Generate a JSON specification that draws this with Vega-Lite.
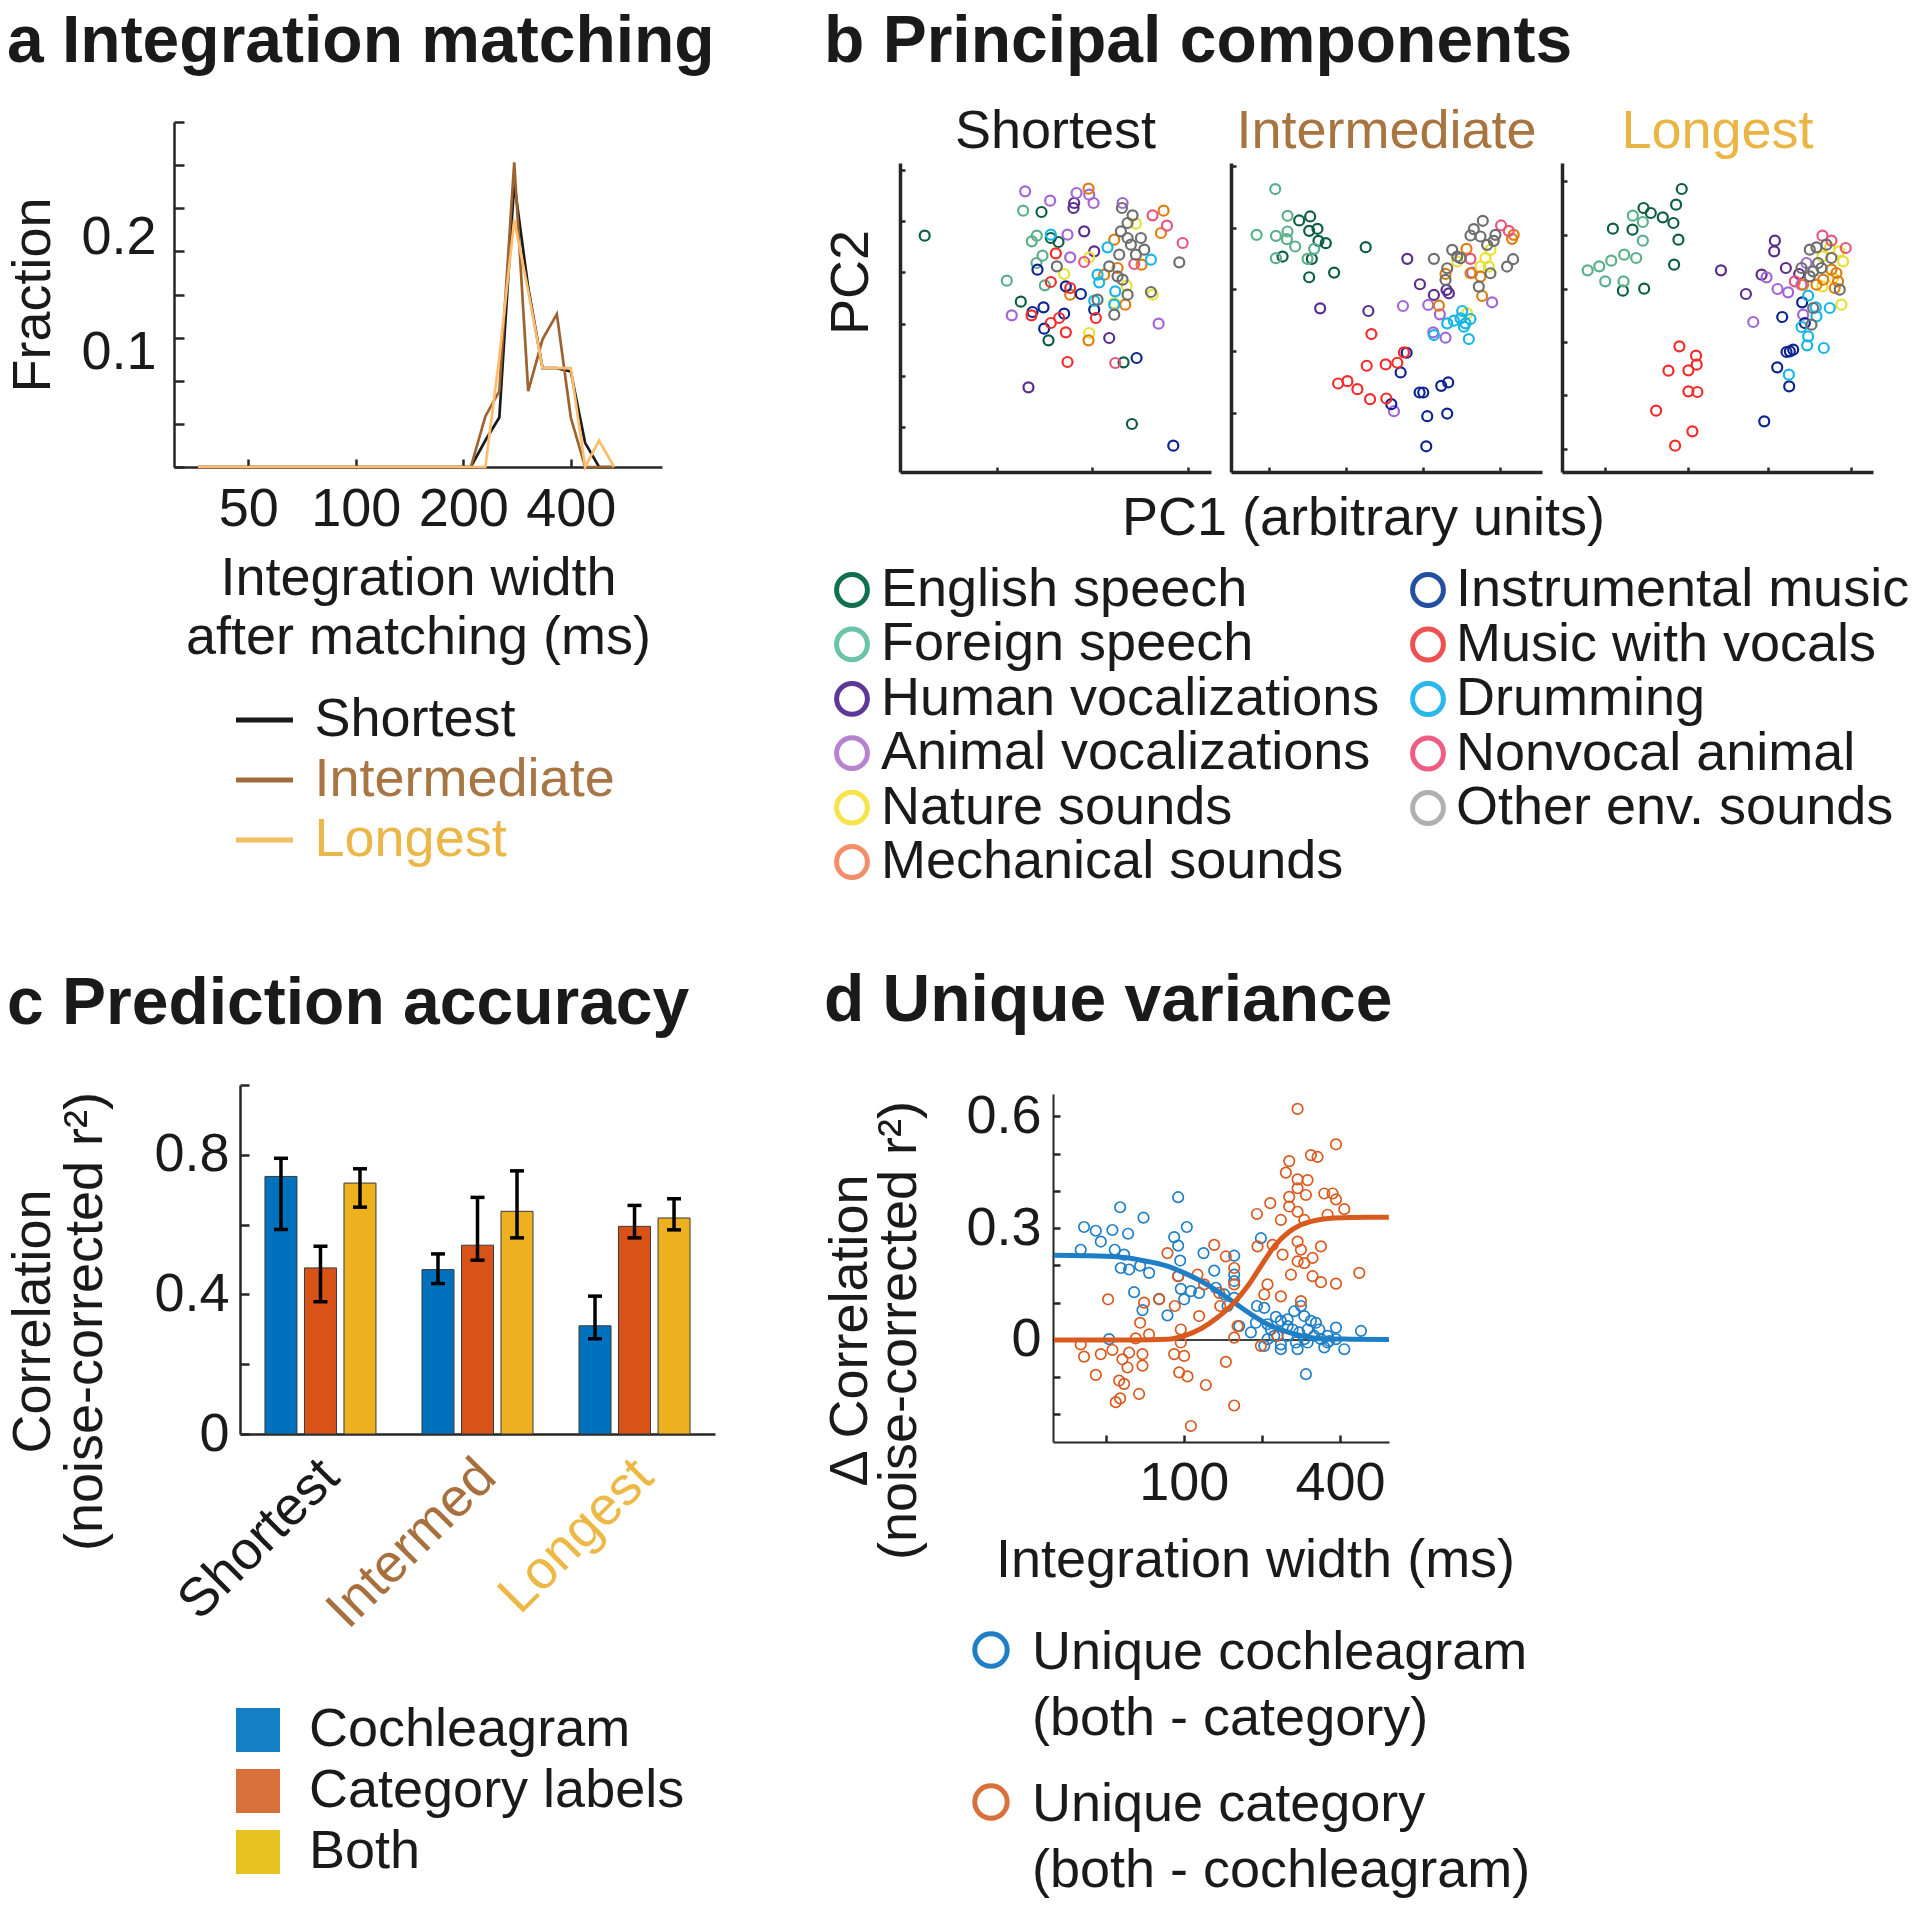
{
"$schema": "https://vega.github.io/schema/vega-lite/v6.json",
"background": "white",
"padding": {"left": 5, "top": 8, "right": 3, "bottom": 4},
"config": {
 "view": {"stroke": null},
 "font": "Liberation Sans",
 "title": {"font": "Liberation Sans", "color": "#1a1a1a"},
 "axis": {"grid": false, "labelFontSize": 54, "titleFontSize": 54, "labelFont": "Liberation Sans", "titleFont": "Liberation Sans", "titleFontWeight": "normal", "labelColor": "#1a1a1a", "titleColor": "#1a1a1a", "domainColor": "#262626", "tickColor": "#262626", "domainWidth": 2.5, "tickWidth": 2.5, "labelFlush": false, "labelOverlap": false, "labelLimit": 0}
},
"datasets": {
 "pcs": [
  {"panel":"Shortest","category":"English speech","pc1":1.12,"pc2":7.17},
  {"panel":"Shortest","category":"English speech","pc1":4.62,"pc2":7.88},
  {"panel":"Shortest","category":"English speech","pc1":4.00,"pc2":5.19},
  {"panel":"Shortest","category":"English speech","pc1":4.83,"pc2":4.03},
  {"panel":"Shortest","category":"English speech","pc1":7.33,"pc2":1.52},
  {"panel":"Shortest","category":"English speech","pc1":7.08,"pc2":3.37},
  {"panel":"Shortest","category":"English speech","pc1":4.90,"pc2":7.10},
  {"panel":"Shortest","category":"English speech","pc1":5.13,"pc2":6.98},
  {"panel":"Shortest","category":"Foreign speech","pc1":4.07,"pc2":7.92},
  {"panel":"Shortest","category":"Foreign speech","pc1":4.33,"pc2":7.00},
  {"panel":"Shortest","category":"Foreign speech","pc1":4.48,"pc2":7.17},
  {"panel":"Shortest","category":"Foreign speech","pc1":4.65,"pc2":6.57},
  {"panel":"Shortest","category":"Foreign speech","pc1":4.47,"pc2":6.35},
  {"panel":"Shortest","category":"Foreign speech","pc1":3.58,"pc2":5.82},
  {"panel":"Shortest","category":"Foreign speech","pc1":4.72,"pc2":5.68},
  {"panel":"Shortest","category":"Human vocalizations","pc1":5.60,"pc2":8.15},
  {"panel":"Shortest","category":"Human vocalizations","pc1":5.58,"pc2":8.00},
  {"panel":"Shortest","category":"Human vocalizations","pc1":5.90,"pc2":7.30},
  {"panel":"Shortest","category":"Human vocalizations","pc1":6.20,"pc2":6.70},
  {"panel":"Shortest","category":"Human vocalizations","pc1":4.23,"pc2":2.62},
  {"panel":"Shortest","category":"Human vocalizations","pc1":6.65,"pc2":4.10},
  {"panel":"Shortest","category":"Animal vocalizations","pc1":4.13,"pc2":8.50},
  {"panel":"Shortest","category":"Animal vocalizations","pc1":4.88,"pc2":8.22},
  {"panel":"Shortest","category":"Animal vocalizations","pc1":5.67,"pc2":8.45},
  {"panel":"Shortest","category":"Animal vocalizations","pc1":6.05,"pc2":8.40},
  {"panel":"Shortest","category":"Animal vocalizations","pc1":6.18,"pc2":8.15},
  {"panel":"Shortest","category":"Animal vocalizations","pc1":5.40,"pc2":7.20},
  {"panel":"Shortest","category":"Animal vocalizations","pc1":5.48,"pc2":6.52},
  {"panel":"Shortest","category":"Animal vocalizations","pc1":3.73,"pc2":4.78},
  {"panel":"Shortest","category":"Animal vocalizations","pc1":7.05,"pc2":8.15},
  {"panel":"Shortest","category":"Animal vocalizations","pc1":8.13,"pc2":4.53},
  {"panel":"Shortest","category":"Nature sounds","pc1":7.45,"pc2":7.53},
  {"panel":"Shortest","category":"Nature sounds","pc1":5.30,"pc2":6.02},
  {"panel":"Shortest","category":"Nature sounds","pc1":6.05,"pc2":6.52},
  {"panel":"Shortest","category":"Nature sounds","pc1":7.17,"pc2":5.67},
  {"panel":"Shortest","category":"Nature sounds","pc1":6.80,"pc2":5.15},
  {"panel":"Shortest","category":"Nature sounds","pc1":7.95,"pc2":5.40},
  {"panel":"Shortest","category":"Nature sounds","pc1":6.05,"pc2":4.25},
  {"panel":"Shortest","category":"Mechanical sounds","pc1":6.03,"pc2":8.58},
  {"panel":"Shortest","category":"Mechanical sounds","pc1":8.28,"pc2":7.92},
  {"panel":"Shortest","category":"Mechanical sounds","pc1":8.20,"pc2":7.25},
  {"panel":"Shortest","category":"Mechanical sounds","pc1":6.80,"pc2":7.05},
  {"panel":"Shortest","category":"Mechanical sounds","pc1":6.90,"pc2":6.20},
  {"panel":"Shortest","category":"Mechanical sounds","pc1":6.50,"pc2":6.00},
  {"panel":"Shortest","category":"Mechanical sounds","pc1":7.62,"pc2":6.30},
  {"panel":"Shortest","category":"Mechanical sounds","pc1":7.13,"pc2":5.10},
  {"panel":"Shortest","category":"Mechanical sounds","pc1":6.03,"pc2":4.03},
  {"panel":"Shortest","category":"Mechanical sounds","pc1":5.48,"pc2":5.40},
  {"panel":"Shortest","category":"Instrumental music","pc1":4.50,"pc2":6.15},
  {"panel":"Shortest","category":"Instrumental music","pc1":4.35,"pc2":4.88},
  {"panel":"Shortest","category":"Instrumental music","pc1":4.68,"pc2":5.02},
  {"panel":"Shortest","category":"Instrumental music","pc1":4.70,"pc2":4.38},
  {"panel":"Shortest","category":"Instrumental music","pc1":5.30,"pc2":4.83},
  {"panel":"Shortest","category":"Instrumental music","pc1":5.35,"pc2":5.65},
  {"panel":"Shortest","category":"Instrumental music","pc1":5.80,"pc2":5.42},
  {"panel":"Shortest","category":"Instrumental music","pc1":6.20,"pc2":4.95},
  {"panel":"Shortest","category":"Instrumental music","pc1":7.47,"pc2":3.50},
  {"panel":"Shortest","category":"Instrumental music","pc1":8.57,"pc2":0.87},
  {"panel":"Shortest","category":"Music with vocals","pc1":5.05,"pc2":6.64},
  {"panel":"Shortest","category":"Music with vocals","pc1":4.90,"pc2":5.78},
  {"panel":"Shortest","category":"Music with vocals","pc1":5.48,"pc2":5.60},
  {"panel":"Shortest","category":"Music with vocals","pc1":4.32,"pc2":4.78},
  {"panel":"Shortest","category":"Music with vocals","pc1":4.90,"pc2":4.55},
  {"panel":"Shortest","category":"Music with vocals","pc1":5.15,"pc2":4.70},
  {"panel":"Shortest","category":"Music with vocals","pc1":5.35,"pc2":4.27},
  {"panel":"Shortest","category":"Music with vocals","pc1":6.25,"pc2":4.70},
  {"panel":"Shortest","category":"Music with vocals","pc1":5.40,"pc2":3.38},
  {"panel":"Shortest","category":"Drumming","pc1":4.90,"pc2":7.20},
  {"panel":"Shortest","category":"Drumming","pc1":6.60,"pc2":6.82},
  {"panel":"Shortest","category":"Drumming","pc1":7.90,"pc2":6.45},
  {"panel":"Shortest","category":"Drumming","pc1":6.30,"pc2":6.00},
  {"panel":"Shortest","category":"Drumming","pc1":6.35,"pc2":5.77},
  {"panel":"Shortest","category":"Drumming","pc1":6.83,"pc2":5.50},
  {"panel":"Shortest","category":"Drumming","pc1":6.20,"pc2":5.22},
  {"panel":"Shortest","category":"Drumming","pc1":6.80,"pc2":5.10},
  {"panel":"Shortest","category":"Nonvocal animal","pc1":7.95,"pc2":7.78},
  {"panel":"Shortest","category":"Nonvocal animal","pc1":8.38,"pc2":7.47},
  {"panel":"Shortest","category":"Nonvocal animal","pc1":8.85,"pc2":6.95},
  {"panel":"Shortest","category":"Nonvocal animal","pc1":5.90,"pc2":6.38},
  {"panel":"Shortest","category":"Nonvocal animal","pc1":7.40,"pc2":6.32},
  {"panel":"Shortest","category":"Nonvocal animal","pc1":6.83,"pc2":3.35},
  {"panel":"Shortest","category":"Other env. sounds","pc1":7.03,"pc2":8.00},
  {"panel":"Shortest","category":"Other env. sounds","pc1":7.35,"pc2":7.78},
  {"panel":"Shortest","category":"Other env. sounds","pc1":7.20,"pc2":7.55},
  {"panel":"Shortest","category":"Other env. sounds","pc1":7.00,"pc2":7.30},
  {"panel":"Shortest","category":"Other env. sounds","pc1":7.60,"pc2":7.10},
  {"panel":"Shortest","category":"Other env. sounds","pc1":7.30,"pc2":6.90},
  {"panel":"Shortest","category":"Other env. sounds","pc1":7.70,"pc2":6.75},
  {"panel":"Shortest","category":"Other env. sounds","pc1":6.95,"pc2":6.60},
  {"panel":"Shortest","category":"Other env. sounds","pc1":7.45,"pc2":6.60},
  {"panel":"Shortest","category":"Other env. sounds","pc1":8.75,"pc2":6.37},
  {"panel":"Shortest","category":"Other env. sounds","pc1":6.65,"pc2":6.25},
  {"panel":"Shortest","category":"Other env. sounds","pc1":6.90,"pc2":5.95},
  {"panel":"Shortest","category":"Other env. sounds","pc1":7.05,"pc2":5.85},
  {"panel":"Shortest","category":"Other env. sounds","pc1":7.20,"pc2":5.40},
  {"panel":"Shortest","category":"Other env. sounds","pc1":7.90,"pc2":5.48},
  {"panel":"Shortest","category":"Other env. sounds","pc1":6.30,"pc2":5.25},
  {"panel":"Shortest","category":"Other env. sounds","pc1":6.80,"pc2":4.80},
  {"panel":"Shortest","category":"Other env. sounds","pc1":5.08,"pc2":6.25},
  {"panel":"Shortest","category":"Other env. sounds","pc1":7.20,"pc2":7.10},

  {"panel":"Intermediate","category":"English speech","pc1":2.45,"pc2":7.63},
  {"panel":"Intermediate","category":"English speech","pc1":2.78,"pc2":7.75},
  {"panel":"Intermediate","category":"English speech","pc1":2.75,"pc2":7.32},
  {"panel":"Intermediate","category":"English speech","pc1":3.00,"pc2":7.38},
  {"panel":"Intermediate","category":"English speech","pc1":3.03,"pc2":7.02},
  {"panel":"Intermediate","category":"English speech","pc1":3.25,"pc2":6.95},
  {"panel":"Intermediate","category":"English speech","pc1":1.95,"pc2":6.55},
  {"panel":"Intermediate","category":"English speech","pc1":2.83,"pc2":6.48},
  {"panel":"Intermediate","category":"English speech","pc1":2.75,"pc2":5.93},
  {"panel":"Intermediate","category":"English speech","pc1":3.50,"pc2":6.07},
  {"panel":"Intermediate","category":"English speech","pc1":4.45,"pc2":6.83},
  {"panel":"Intermediate","category":"Foreign speech","pc1":1.73,"pc2":8.57},
  {"panel":"Intermediate","category":"Foreign speech","pc1":2.10,"pc2":7.77},
  {"panel":"Intermediate","category":"Foreign speech","pc1":1.17,"pc2":7.20},
  {"panel":"Intermediate","category":"Foreign speech","pc1":1.75,"pc2":7.17},
  {"panel":"Intermediate","category":"Foreign speech","pc1":2.10,"pc2":7.30},
  {"panel":"Intermediate","category":"Foreign speech","pc1":2.08,"pc2":7.07},
  {"panel":"Intermediate","category":"Foreign speech","pc1":2.33,"pc2":6.85},
  {"panel":"Intermediate","category":"Foreign speech","pc1":1.75,"pc2":6.50},
  {"panel":"Intermediate","category":"Foreign speech","pc1":2.70,"pc2":6.48},
  {"panel":"Intermediate","category":"Foreign speech","pc1":2.90,"pc2":6.78},
  {"panel":"Intermediate","category":"Human vocalizations","pc1":3.08,"pc2":5.00},
  {"panel":"Intermediate","category":"Human vocalizations","pc1":4.53,"pc2":4.92},
  {"panel":"Intermediate","category":"Human vocalizations","pc1":5.70,"pc2":6.48},
  {"panel":"Intermediate","category":"Human vocalizations","pc1":6.08,"pc2":5.72},
  {"panel":"Intermediate","category":"Human vocalizations","pc1":6.50,"pc2":5.40},
  {"panel":"Intermediate","category":"Human vocalizations","pc1":6.88,"pc2":5.55},
  {"panel":"Intermediate","category":"Human vocalizations","pc1":6.95,"pc2":5.45},
  {"panel":"Intermediate","category":"Animal vocalizations","pc1":5.57,"pc2":5.07},
  {"panel":"Intermediate","category":"Animal vocalizations","pc1":6.33,"pc2":5.10},
  {"panel":"Intermediate","category":"Animal vocalizations","pc1":6.68,"pc2":4.82},
  {"panel":"Intermediate","category":"Animal vocalizations","pc1":6.48,"pc2":4.28},
  {"panel":"Intermediate","category":"Animal vocalizations","pc1":6.85,"pc2":4.12},
  {"panel":"Intermediate","category":"Animal vocalizations","pc1":8.25,"pc2":5.18},
  {"panel":"Intermediate","category":"Animal vocalizations","pc1":5.30,"pc2":1.92},
  {"panel":"Intermediate","category":"Animal vocalizations","pc1":7.65,"pc2":6.07},
  {"panel":"Intermediate","category":"Nature sounds","pc1":8.20,"pc2":6.75},
  {"panel":"Intermediate","category":"Nature sounds","pc1":8.05,"pc2":6.50},
  {"panel":"Intermediate","category":"Nature sounds","pc1":7.90,"pc2":6.25},
  {"panel":"Intermediate","category":"Nature sounds","pc1":7.20,"pc2":6.40},
  {"panel":"Intermediate","category":"Nature sounds","pc1":7.50,"pc2":4.85},
  {"panel":"Intermediate","category":"Nature sounds","pc1":8.15,"pc2":6.25},
  {"panel":"Intermediate","category":"Mechanical sounds","pc1":8.90,"pc2":7.20},
  {"panel":"Intermediate","category":"Mechanical sounds","pc1":8.85,"pc2":7.08},
  {"panel":"Intermediate","category":"Mechanical sounds","pc1":7.48,"pc2":6.78},
  {"panel":"Intermediate","category":"Mechanical sounds","pc1":6.85,"pc2":6.03},
  {"panel":"Intermediate","category":"Mechanical sounds","pc1":7.60,"pc2":6.05},
  {"panel":"Intermediate","category":"Mechanical sounds","pc1":7.90,"pc2":5.95},
  {"panel":"Intermediate","category":"Mechanical sounds","pc1":7.95,"pc2":5.37},
  {"panel":"Intermediate","category":"Mechanical sounds","pc1":6.65,"pc2":5.08},
  {"panel":"Intermediate","category":"Instrumental music","pc1":5.68,"pc2":3.67},
  {"panel":"Intermediate","category":"Instrumental music","pc1":5.50,"pc2":3.08},
  {"panel":"Intermediate","category":"Instrumental music","pc1":5.22,"pc2":2.13},
  {"panel":"Intermediate","category":"Instrumental music","pc1":6.07,"pc2":2.48},
  {"panel":"Intermediate","category":"Instrumental music","pc1":6.18,"pc2":2.48},
  {"panel":"Intermediate","category":"Instrumental music","pc1":6.72,"pc2":2.68},
  {"panel":"Intermediate","category":"Instrumental music","pc1":6.93,"pc2":2.78},
  {"panel":"Intermediate","category":"Instrumental music","pc1":6.90,"pc2":1.85},
  {"panel":"Intermediate","category":"Instrumental music","pc1":6.30,"pc2":1.77},
  {"panel":"Intermediate","category":"Instrumental music","pc1":6.27,"pc2":0.87},
  {"panel":"Intermediate","category":"Music with vocals","pc1":4.62,"pc2":4.23},
  {"panel":"Intermediate","category":"Music with vocals","pc1":4.48,"pc2":3.28},
  {"panel":"Intermediate","category":"Music with vocals","pc1":5.05,"pc2":3.32},
  {"panel":"Intermediate","category":"Music with vocals","pc1":5.40,"pc2":3.37},
  {"panel":"Intermediate","category":"Music with vocals","pc1":5.60,"pc2":3.68},
  {"panel":"Intermediate","category":"Music with vocals","pc1":3.62,"pc2":2.75},
  {"panel":"Intermediate","category":"Music with vocals","pc1":3.90,"pc2":2.82},
  {"panel":"Intermediate","category":"Music with vocals","pc1":4.20,"pc2":2.58},
  {"panel":"Intermediate","category":"Music with vocals","pc1":4.58,"pc2":2.28},
  {"panel":"Intermediate","category":"Music with vocals","pc1":5.07,"pc2":2.30},
  {"panel":"Intermediate","category":"Drumming","pc1":6.90,"pc2":4.55},
  {"panel":"Intermediate","category":"Drumming","pc1":7.10,"pc2":4.63},
  {"panel":"Intermediate","category":"Drumming","pc1":7.30,"pc2":4.70},
  {"panel":"Intermediate","category":"Drumming","pc1":7.45,"pc2":4.55},
  {"panel":"Intermediate","category":"Drumming","pc1":7.60,"pc2":4.68},
  {"panel":"Intermediate","category":"Drumming","pc1":7.35,"pc2":4.92},
  {"panel":"Intermediate","category":"Drumming","pc1":6.50,"pc2":4.20},
  {"panel":"Intermediate","category":"Drumming","pc1":7.55,"pc2":4.08},
  {"panel":"Intermediate","category":"Drumming","pc1":7.40,"pc2":4.45},
  {"panel":"Intermediate","category":"Nonvocal animal","pc1":8.52,"pc2":7.48},
  {"panel":"Intermediate","category":"Nonvocal animal","pc1":8.75,"pc2":7.32},
  {"panel":"Intermediate","category":"Nonvocal animal","pc1":7.60,"pc2":6.48},
  {"panel":"Intermediate","category":"Other env. sounds","pc1":7.97,"pc2":7.62},
  {"panel":"Intermediate","category":"Other env. sounds","pc1":7.70,"pc2":7.37},
  {"panel":"Intermediate","category":"Other env. sounds","pc1":7.60,"pc2":7.18},
  {"panel":"Intermediate","category":"Other env. sounds","pc1":7.90,"pc2":7.15},
  {"panel":"Intermediate","category":"Other env. sounds","pc1":8.35,"pc2":7.20},
  {"panel":"Intermediate","category":"Other env. sounds","pc1":8.30,"pc2":7.02},
  {"panel":"Intermediate","category":"Other env. sounds","pc1":8.10,"pc2":6.90},
  {"panel":"Intermediate","category":"Other env. sounds","pc1":7.05,"pc2":6.75},
  {"panel":"Intermediate","category":"Other env. sounds","pc1":7.30,"pc2":6.50},
  {"panel":"Intermediate","category":"Other env. sounds","pc1":6.50,"pc2":6.48},
  {"panel":"Intermediate","category":"Other env. sounds","pc1":6.90,"pc2":6.20},
  {"panel":"Intermediate","category":"Other env. sounds","pc1":6.85,"pc2":5.85},
  {"panel":"Intermediate","category":"Other env. sounds","pc1":7.85,"pc2":5.65},
  {"panel":"Intermediate","category":"Other env. sounds","pc1":8.70,"pc2":6.25},
  {"panel":"Intermediate","category":"Other env. sounds","pc1":8.88,"pc2":6.47},
  {"panel":"Intermediate","category":"Other env. sounds","pc1":8.20,"pc2":6.05},
  {"panel":"Intermediate","category":"Other env. sounds","pc1":7.20,"pc2":6.55},

  {"panel":"Longest","category":"English speech","pc1":4.05,"pc2":8.57},
  {"panel":"Longest","category":"English speech","pc1":3.88,"pc2":8.10},
  {"panel":"Longest","category":"English speech","pc1":2.90,"pc2":8.00},
  {"panel":"Longest","category":"English speech","pc1":3.12,"pc2":7.85},
  {"panel":"Longest","category":"English speech","pc1":3.48,"pc2":7.72},
  {"panel":"Longest","category":"English speech","pc1":3.80,"pc2":7.55},
  {"panel":"Longest","category":"English speech","pc1":3.95,"pc2":7.05},
  {"panel":"Longest","category":"English speech","pc1":1.98,"pc2":7.38},
  {"panel":"Longest","category":"English speech","pc1":2.57,"pc2":7.35},
  {"panel":"Longest","category":"English speech","pc1":3.82,"pc2":6.30},
  {"panel":"Longest","category":"English speech","pc1":2.28,"pc2":5.52},
  {"panel":"Longest","category":"English speech","pc1":2.92,"pc2":5.58},
  {"panel":"Longest","category":"Foreign speech","pc1":2.58,"pc2":7.77},
  {"panel":"Longest","category":"Foreign speech","pc1":2.88,"pc2":7.58},
  {"panel":"Longest","category":"Foreign speech","pc1":2.88,"pc2":7.02},
  {"panel":"Longest","category":"Foreign speech","pc1":2.32,"pc2":6.60},
  {"panel":"Longest","category":"Foreign speech","pc1":2.68,"pc2":6.50},
  {"panel":"Longest","category":"Foreign speech","pc1":1.93,"pc2":6.42},
  {"panel":"Longest","category":"Foreign speech","pc1":1.57,"pc2":6.25},
  {"panel":"Longest","category":"Foreign speech","pc1":1.22,"pc2":6.13},
  {"panel":"Longest","category":"Foreign speech","pc1":1.75,"pc2":5.80},
  {"panel":"Longest","category":"Foreign speech","pc1":2.30,"pc2":5.80},
  {"panel":"Longest","category":"Human vocalizations","pc1":6.85,"pc2":7.02},
  {"panel":"Longest","category":"Human vocalizations","pc1":6.83,"pc2":6.70},
  {"panel":"Longest","category":"Human vocalizations","pc1":5.23,"pc2":6.13},
  {"panel":"Longest","category":"Human vocalizations","pc1":5.98,"pc2":5.42},
  {"panel":"Longest","category":"Human vocalizations","pc1":6.45,"pc2":6.00},
  {"panel":"Longest","category":"Human vocalizations","pc1":7.18,"pc2":6.20},
  {"panel":"Longest","category":"Human vocalizations","pc1":7.58,"pc2":6.02},
  {"panel":"Longest","category":"Animal vocalizations","pc1":6.60,"pc2":5.92},
  {"panel":"Longest","category":"Animal vocalizations","pc1":6.93,"pc2":5.57},
  {"panel":"Longest","category":"Animal vocalizations","pc1":7.25,"pc2":5.47},
  {"panel":"Longest","category":"Animal vocalizations","pc1":6.20,"pc2":4.58},
  {"panel":"Longest","category":"Animal vocalizations","pc1":7.70,"pc2":4.80},
  {"panel":"Longest","category":"Animal vocalizations","pc1":7.80,"pc2":6.35},
  {"panel":"Longest","category":"Animal vocalizations","pc1":7.65,"pc2":5.70},
  {"panel":"Longest","category":"Nature sounds","pc1":8.50,"pc2":6.80},
  {"panel":"Longest","category":"Nature sounds","pc1":8.78,"pc2":6.70},
  {"panel":"Longest","category":"Nature sounds","pc1":8.90,"pc2":6.40},
  {"panel":"Longest","category":"Nature sounds","pc1":8.28,"pc2":6.55},
  {"panel":"Longest","category":"Nature sounds","pc1":8.28,"pc2":5.65},
  {"panel":"Longest","category":"Nature sounds","pc1":8.85,"pc2":5.10},
  {"panel":"Longest","category":"Nature sounds","pc1":8.60,"pc2":5.90},
  {"panel":"Longest","category":"Mechanical sounds","pc1":8.55,"pc2":6.15},
  {"panel":"Longest","category":"Mechanical sounds","pc1":8.70,"pc2":6.05},
  {"panel":"Longest","category":"Mechanical sounds","pc1":8.30,"pc2":5.85},
  {"panel":"Longest","category":"Mechanical sounds","pc1":8.75,"pc2":5.80},
  {"panel":"Longest","category":"Mechanical sounds","pc1":8.65,"pc2":5.60},
  {"panel":"Longest","category":"Mechanical sounds","pc1":7.70,"pc2":5.70},
  {"panel":"Longest","category":"Mechanical sounds","pc1":8.10,"pc2":5.70},
  {"panel":"Longest","category":"Instrumental music","pc1":7.67,"pc2":5.17},
  {"panel":"Longest","category":"Instrumental music","pc1":7.07,"pc2":4.73},
  {"panel":"Longest","category":"Instrumental music","pc1":7.75,"pc2":4.55},
  {"panel":"Longest","category":"Instrumental music","pc1":7.40,"pc2":3.75},
  {"panel":"Longest","category":"Instrumental music","pc1":7.30,"pc2":3.70},
  {"panel":"Longest","category":"Instrumental music","pc1":7.20,"pc2":3.68},
  {"panel":"Longest","category":"Instrumental music","pc1":6.92,"pc2":3.22},
  {"panel":"Longest","category":"Instrumental music","pc1":7.28,"pc2":2.65},
  {"panel":"Longest","category":"Instrumental music","pc1":6.53,"pc2":1.60},
  {"panel":"Longest","category":"Music with vocals","pc1":3.98,"pc2":3.85},
  {"panel":"Longest","category":"Music with vocals","pc1":4.48,"pc2":3.57},
  {"panel":"Longest","category":"Music with vocals","pc1":4.50,"pc2":3.30},
  {"panel":"Longest","category":"Music with vocals","pc1":4.25,"pc2":3.13},
  {"panel":"Longest","category":"Music with vocals","pc1":3.65,"pc2":3.12},
  {"panel":"Longest","category":"Music with vocals","pc1":4.25,"pc2":2.50},
  {"panel":"Longest","category":"Music with vocals","pc1":4.52,"pc2":2.48},
  {"panel":"Longest","category":"Music with vocals","pc1":3.28,"pc2":1.92},
  {"panel":"Longest","category":"Music with vocals","pc1":4.37,"pc2":1.30},
  {"panel":"Longest","category":"Music with vocals","pc1":3.85,"pc2":0.87},
  {"panel":"Longest","category":"Drumming","pc1":7.85,"pc2":5.37},
  {"panel":"Longest","category":"Drumming","pc1":8.08,"pc2":5.02},
  {"panel":"Longest","category":"Drumming","pc1":8.50,"pc2":5.00},
  {"panel":"Longest","category":"Drumming","pc1":8.10,"pc2":4.75},
  {"panel":"Longest","category":"Drumming","pc1":7.65,"pc2":4.43},
  {"panel":"Longest","category":"Drumming","pc1":7.85,"pc2":4.15},
  {"panel":"Longest","category":"Drumming","pc1":7.82,"pc2":3.88},
  {"panel":"Longest","category":"Drumming","pc1":8.32,"pc2":3.80},
  {"panel":"Longest","category":"Drumming","pc1":7.27,"pc2":3.00},
  {"panel":"Longest","category":"Nonvocal animal","pc1":8.28,"pc2":7.17},
  {"panel":"Longest","category":"Nonvocal animal","pc1":8.55,"pc2":7.02},
  {"panel":"Longest","category":"Nonvocal animal","pc1":8.98,"pc2":6.80},
  {"panel":"Longest","category":"Nonvocal animal","pc1":7.45,"pc2":5.80},
  {"panel":"Longest","category":"Other env. sounds","pc1":7.90,"pc2":6.75},
  {"panel":"Longest","category":"Other env. sounds","pc1":8.10,"pc2":6.82},
  {"panel":"Longest","category":"Other env. sounds","pc1":8.40,"pc2":6.90},
  {"panel":"Longest","category":"Other env. sounds","pc1":7.65,"pc2":6.20},
  {"panel":"Longest","category":"Other env. sounds","pc1":8.00,"pc2":6.10},
  {"panel":"Longest","category":"Other env. sounds","pc1":8.25,"pc2":6.20},
  {"panel":"Longest","category":"Other env. sounds","pc1":7.90,"pc2":5.95},
  {"panel":"Longest","category":"Other env. sounds","pc1":8.55,"pc2":6.50},
  {"panel":"Longest","category":"Other env. sounds","pc1":8.00,"pc2":5.00},
  {"panel":"Longest","category":"Other env. sounds","pc1":7.95,"pc2":4.50},
  {"panel":"Longest","category":"Other env. sounds","pc1":8.80,"pc2":5.55},
  {"panel":"Longest","category":"Other env. sounds","pc1":8.15,"pc2":6.35}
 ],
 "d_points": [
  {"measure":"Unique cochleagram","log2_width_ms":5.366,"delta_r":0.303},
  {"measure":"Unique cochleagram","log2_width_ms":5.516,"delta_r":0.293},
  {"measure":"Unique cochleagram","log2_width_ms":5.580,"delta_r":0.264},
  {"measure":"Unique cochleagram","log2_width_ms":5.729,"delta_r":0.295},
  {"measure":"Unique cochleagram","log2_width_ms":5.323,"delta_r":0.242},
  {"measure":"Unique cochleagram","log2_width_ms":5.828,"delta_r":0.356},
  {"measure":"Unique cochleagram","log2_width_ms":5.930,"delta_r":0.285},
  {"measure":"Unique cochleagram","log2_width_ms":6.127,"delta_r":0.328},
  {"measure":"Unique cochleagram","log2_width_ms":5.759,"delta_r":0.242},
  {"measure":"Unique cochleagram","log2_width_ms":5.879,"delta_r":0.229},
  {"measure":"Unique cochleagram","log2_width_ms":5.836,"delta_r":0.193},
  {"measure":"Unique cochleagram","log2_width_ms":5.943,"delta_r":0.189},
  {"measure":"Unique cochleagram","log2_width_ms":6.084,"delta_r":0.199},
  {"measure":"Unique cochleagram","log2_width_ms":6.199,"delta_r":0.180},
  {"measure":"Unique cochleagram","log2_width_ms":6.007,"delta_r":0.128},
  {"measure":"Unique cochleagram","log2_width_ms":6.114,"delta_r":0.080},
  {"measure":"Unique cochleagram","log2_width_ms":6.328,"delta_r":0.110},
  {"measure":"Unique cochleagram","log2_width_ms":6.434,"delta_r":0.066},
  {"measure":"Unique cochleagram","log2_width_ms":5.687,"delta_r":0.002},
  {"measure":"Unique cochleagram","log2_width_ms":6.571,"delta_r":0.383},
  {"measure":"Unique cochleagram","log2_width_ms":6.682,"delta_r":0.303},
  {"measure":"Unique cochleagram","log2_width_ms":6.520,"delta_r":0.276},
  {"measure":"Unique cochleagram","log2_width_ms":6.571,"delta_r":0.253},
  {"measure":"Unique cochleagram","log2_width_ms":6.597,"delta_r":0.213},
  {"measure":"Unique cochleagram","log2_width_ms":6.571,"delta_r":0.171},
  {"measure":"Unique cochleagram","log2_width_ms":6.605,"delta_r":0.137},
  {"measure":"Unique cochleagram","log2_width_ms":6.734,"delta_r":0.131},
  {"measure":"Unique cochleagram","log2_width_ms":6.648,"delta_r":0.109},
  {"measure":"Unique cochleagram","log2_width_ms":6.840,"delta_r":0.126},
  {"measure":"Unique cochleagram","log2_width_ms":6.896,"delta_r":0.233},
  {"measure":"Unique cochleagram","log2_width_ms":7.033,"delta_r":0.186},
  {"measure":"Unique cochleagram","log2_width_ms":7.054,"delta_r":0.140},
  {"measure":"Unique cochleagram","log2_width_ms":7.161,"delta_r":0.122},
  {"measure":"Unique cochleagram","log2_width_ms":7.289,"delta_r":0.226},
  {"measure":"Unique cochleagram","log2_width_ms":7.289,"delta_r":0.175},
  {"measure":"Unique cochleagram","log2_width_ms":7.289,"delta_r":0.158},
  {"measure":"Unique cochleagram","log2_width_ms":7.289,"delta_r":0.113},
  {"measure":"Unique cochleagram","log2_width_ms":7.204,"delta_r":0.091},
  {"measure":"Unique cochleagram","log2_width_ms":7.353,"delta_r":0.037},
  {"measure":"Unique cochleagram","log2_width_ms":7.631,"delta_r":0.273},
  {"measure":"Unique cochleagram","log2_width_ms":7.580,"delta_r":0.091},
  {"measure":"Unique cochleagram","log2_width_ms":7.674,"delta_r":0.086},
  {"measure":"Unique cochleagram","log2_width_ms":7.567,"delta_r":0.046},
  {"measure":"Unique cochleagram","log2_width_ms":7.716,"delta_r":0.042},
  {"measure":"Unique cochleagram","log2_width_ms":7.823,"delta_r":0.062},
  {"measure":"Unique cochleagram","log2_width_ms":7.887,"delta_r":0.051},
  {"measure":"Unique cochleagram","log2_width_ms":7.973,"delta_r":0.055},
  {"measure":"Unique cochleagram","log2_width_ms":8.058,"delta_r":0.077},
  {"measure":"Unique cochleagram","log2_width_ms":8.144,"delta_r":0.091},
  {"measure":"Unique cochleagram","log2_width_ms":8.187,"delta_r":0.064},
  {"measure":"Unique cochleagram","log2_width_ms":8.272,"delta_r":0.051},
  {"measure":"Unique cochleagram","log2_width_ms":8.336,"delta_r":0.046},
  {"measure":"Unique cochleagram","log2_width_ms":8.037,"delta_r":0.028},
  {"measure":"Unique cochleagram","log2_width_ms":8.122,"delta_r":0.020},
  {"measure":"Unique cochleagram","log2_width_ms":8.229,"delta_r":0.028},
  {"measure":"Unique cochleagram","log2_width_ms":7.973,"delta_r":0.011},
  {"measure":"Unique cochleagram","log2_width_ms":7.802,"delta_r":0.011},
  {"measure":"Unique cochleagram","log2_width_ms":7.716,"delta_r":0.002},
  {"measure":"Unique cochleagram","log2_width_ms":7.887,"delta_r":-0.012},
  {"measure":"Unique cochleagram","log2_width_ms":8.080,"delta_r":-0.007},
  {"measure":"Unique cochleagram","log2_width_ms":8.187,"delta_r":0.002},
  {"measure":"Unique cochleagram","log2_width_ms":8.315,"delta_r":0.011},
  {"measure":"Unique cochleagram","log2_width_ms":8.400,"delta_r":0.002},
  {"measure":"Unique cochleagram","log2_width_ms":8.486,"delta_r":0.011},
  {"measure":"Unique cochleagram","log2_width_ms":8.593,"delta_r":0.033},
  {"measure":"Unique cochleagram","log2_width_ms":8.593,"delta_r":0.002},
  {"measure":"Unique cochleagram","log2_width_ms":8.443,"delta_r":-0.020},
  {"measure":"Unique cochleagram","log2_width_ms":8.507,"delta_r":-0.003},
  {"measure":"Unique cochleagram","log2_width_ms":8.699,"delta_r":-0.025},
  {"measure":"Unique cochleagram","log2_width_ms":8.913,"delta_r":0.024},
  {"measure":"Unique cochleagram","log2_width_ms":7.674,"delta_r":-0.016},
  {"measure":"Unique cochleagram","log2_width_ms":7.887,"delta_r":-0.025},
  {"measure":"Unique cochleagram","log2_width_ms":8.101,"delta_r":-0.025},
  {"measure":"Unique cochleagram","log2_width_ms":8.208,"delta_r":-0.092},
  {"measure":"Unique cochleagram","log2_width_ms":7.503,"delta_r":0.020},
  {"measure":"Unique cochleagram","log2_width_ms":7.759,"delta_r":0.028},
  {"measure":"Unique cochleagram","log2_width_ms":7.973,"delta_r":0.037},
  {"measure":"Unique cochleagram","log2_width_ms":8.379,"delta_r":0.028},
  {"measure":"Unique cochleagram","log2_width_ms":8.486,"delta_r":-0.007},
  {"measure":"Unique cochleagram","log2_width_ms":8.229,"delta_r":-0.007},
  {"measure":"Unique category","log2_width_ms":5.323,"delta_r":-0.012},
  {"measure":"Unique category","log2_width_ms":5.366,"delta_r":-0.045},
  {"measure":"Unique category","log2_width_ms":5.516,"delta_r":-0.094},
  {"measure":"Unique category","log2_width_ms":5.580,"delta_r":-0.038},
  {"measure":"Unique category","log2_width_ms":5.674,"delta_r":0.109},
  {"measure":"Unique category","log2_width_ms":5.729,"delta_r":-0.027},
  {"measure":"Unique category","log2_width_ms":5.815,"delta_r":-0.109},
  {"measure":"Unique category","log2_width_ms":5.857,"delta_r":-0.052},
  {"measure":"Unique category","log2_width_ms":5.879,"delta_r":-0.118},
  {"measure":"Unique category","log2_width_ms":5.943,"delta_r":-0.034},
  {"measure":"Unique category","log2_width_ms":5.922,"delta_r":-0.074},
  {"measure":"Unique category","log2_width_ms":5.772,"delta_r":-0.167},
  {"measure":"Unique category","log2_width_ms":5.828,"delta_r":-0.157},
  {"measure":"Unique category","log2_width_ms":6.028,"delta_r":0.004},
  {"measure":"Unique category","log2_width_ms":6.071,"delta_r":-0.145},
  {"measure":"Unique category","log2_width_ms":6.114,"delta_r":-0.038},
  {"measure":"Unique category","log2_width_ms":6.114,"delta_r":-0.069},
  {"measure":"Unique category","log2_width_ms":6.084,"delta_r":0.046},
  {"measure":"Unique category","log2_width_ms":6.135,"delta_r":0.100},
  {"measure":"Unique category","log2_width_ms":6.199,"delta_r":0.015},
  {"measure":"Unique category","log2_width_ms":6.328,"delta_r":0.109},
  {"measure":"Unique category","log2_width_ms":6.434,"delta_r":0.233},
  {"measure":"Unique category","log2_width_ms":6.528,"delta_r":0.091},
  {"measure":"Unique category","log2_width_ms":6.571,"delta_r":0.171},
  {"measure":"Unique category","log2_width_ms":6.605,"delta_r":0.028},
  {"measure":"Unique category","log2_width_ms":6.520,"delta_r":-0.038},
  {"measure":"Unique category","log2_width_ms":6.605,"delta_r":-0.007},
  {"measure":"Unique category","log2_width_ms":6.648,"delta_r":-0.043},
  {"measure":"Unique category","log2_width_ms":6.584,"delta_r":-0.087},
  {"measure":"Unique category","log2_width_ms":6.691,"delta_r":-0.098},
  {"measure":"Unique category","log2_width_ms":6.819,"delta_r":0.175},
  {"measure":"Unique category","log2_width_ms":6.840,"delta_r":0.064},
  {"measure":"Unique category","log2_width_ms":6.904,"delta_r":0.149},
  {"measure":"Unique category","log2_width_ms":6.926,"delta_r":-0.121},
  {"measure":"Unique category","log2_width_ms":7.033,"delta_r":0.255},
  {"measure":"Unique category","log2_width_ms":7.097,"delta_r":0.126},
  {"measure":"Unique category","log2_width_ms":7.110,"delta_r":0.091},
  {"measure":"Unique category","log2_width_ms":7.182,"delta_r":0.224},
  {"measure":"Unique category","log2_width_ms":7.182,"delta_r":-0.059},
  {"measure":"Unique category","log2_width_ms":7.289,"delta_r":0.193},
  {"measure":"Unique category","log2_width_ms":7.289,"delta_r":0.149},
  {"measure":"Unique category","log2_width_ms":7.289,"delta_r":0.006},
  {"measure":"Unique category","log2_width_ms":7.332,"delta_r":0.037},
  {"measure":"Unique category","log2_width_ms":7.289,"delta_r":-0.176},
  {"measure":"Unique category","log2_width_ms":6.734,"delta_r":-0.231},
  {"measure":"Unique category","log2_width_ms":7.580,"delta_r":0.338},
  {"measure":"Unique category","log2_width_ms":7.588,"delta_r":0.251},
  {"measure":"Unique category","log2_width_ms":7.716,"delta_r":0.149},
  {"measure":"Unique category","log2_width_ms":7.751,"delta_r":0.367},
  {"measure":"Unique category","log2_width_ms":7.674,"delta_r":0.122},
  {"measure":"Unique category","log2_width_ms":7.781,"delta_r":0.255},
  {"measure":"Unique category","log2_width_ms":7.887,"delta_r":0.117},
  {"measure":"Unique category","log2_width_ms":7.909,"delta_r":0.229},
  {"measure":"Unique category","log2_width_ms":7.951,"delta_r":0.449},
  {"measure":"Unique category","log2_width_ms":7.994,"delta_r":0.480},
  {"measure":"Unique category","log2_width_ms":7.994,"delta_r":0.384},
  {"measure":"Unique category","log2_width_ms":7.994,"delta_r":0.358},
  {"measure":"Unique category","log2_width_ms":8.101,"delta_r":0.431},
  {"measure":"Unique category","log2_width_ms":8.101,"delta_r":0.407},
  {"measure":"Unique category","log2_width_ms":8.208,"delta_r":0.389},
  {"measure":"Unique category","log2_width_ms":8.101,"delta_r":0.620},
  {"measure":"Unique category","log2_width_ms":8.101,"delta_r":0.344},
  {"measure":"Unique category","log2_width_ms":8.187,"delta_r":0.322},
  {"measure":"Unique category","log2_width_ms":8.101,"delta_r":0.264},
  {"measure":"Unique category","log2_width_ms":8.144,"delta_r":0.242},
  {"measure":"Unique category","log2_width_ms":8.101,"delta_r":0.211},
  {"measure":"Unique category","log2_width_ms":8.016,"delta_r":0.175},
  {"measure":"Unique category","log2_width_ms":8.187,"delta_r":0.206},
  {"measure":"Unique category","log2_width_ms":8.293,"delta_r":0.220},
  {"measure":"Unique category","log2_width_ms":8.272,"delta_r":0.496},
  {"measure":"Unique category","log2_width_ms":8.357,"delta_r":0.491},
  {"measure":"Unique category","log2_width_ms":8.293,"delta_r":0.171},
  {"measure":"Unique category","log2_width_ms":8.400,"delta_r":0.251},
  {"measure":"Unique category","log2_width_ms":8.400,"delta_r":0.155},
  {"measure":"Unique category","log2_width_ms":8.443,"delta_r":0.393},
  {"measure":"Unique category","log2_width_ms":8.486,"delta_r":0.336},
  {"measure":"Unique category","log2_width_ms":8.550,"delta_r":0.393},
  {"measure":"Unique category","log2_width_ms":8.593,"delta_r":0.377},
  {"measure":"Unique category","log2_width_ms":8.593,"delta_r":0.525},
  {"measure":"Unique category","log2_width_ms":8.699,"delta_r":0.351},
  {"measure":"Unique category","log2_width_ms":8.593,"delta_r":0.151},
  {"measure":"Unique category","log2_width_ms":8.892,"delta_r":0.180},
  {"measure":"Unique category","log2_width_ms":7.845,"delta_r":0.011},
  {"measure":"Unique category","log2_width_ms":8.144,"delta_r":0.104},
  {"measure":"Unique category","log2_width_ms":7.631,"delta_r":-0.016},
  {"measure":"Unique category","log2_width_ms":7.887,"delta_r":0.322},
  {"measure":"Unique category","log2_width_ms":8.229,"delta_r":0.429}
 ],
 "d_fits": [
  {"measure":"Unique cochleagram","log2_width_ms":4.981,"delta_r":0.227},
  {"measure":"Unique cochleagram","log2_width_ms":5.366,"delta_r":0.226},
  {"measure":"Unique cochleagram","log2_width_ms":5.793,"delta_r":0.223},
  {"measure":"Unique cochleagram","log2_width_ms":6.093,"delta_r":0.214},
  {"measure":"Unique cochleagram","log2_width_ms":6.434,"delta_r":0.198},
  {"measure":"Unique cochleagram","log2_width_ms":6.648,"delta_r":0.180},
  {"measure":"Unique cochleagram","log2_width_ms":6.862,"delta_r":0.158},
  {"measure":"Unique cochleagram","log2_width_ms":7.075,"delta_r":0.131},
  {"measure":"Unique cochleagram","log2_width_ms":7.289,"delta_r":0.100},
  {"measure":"Unique cochleagram","log2_width_ms":7.503,"delta_r":0.069},
  {"measure":"Unique cochleagram","log2_width_ms":7.716,"delta_r":0.042},
  {"measure":"Unique cochleagram","log2_width_ms":7.930,"delta_r":0.024},
  {"measure":"Unique cochleagram","log2_width_ms":8.144,"delta_r":0.011},
  {"measure":"Unique cochleagram","log2_width_ms":8.357,"delta_r":0.004},
  {"measure":"Unique cochleagram","log2_width_ms":8.785,"delta_r":0.002},
  {"measure":"Unique cochleagram","log2_width_ms":9.270,"delta_r":0.001},
  {"measure":"Unique category","log2_width_ms":4.981,"delta_r":0.0},
  {"measure":"Unique category","log2_width_ms":6.007,"delta_r":0.0},
  {"measure":"Unique category","log2_width_ms":6.434,"delta_r":0.002},
  {"measure":"Unique category","log2_width_ms":6.648,"delta_r":0.011},
  {"measure":"Unique category","log2_width_ms":6.862,"delta_r":0.030},
  {"measure":"Unique category","log2_width_ms":7.075,"delta_r":0.060},
  {"measure":"Unique category","log2_width_ms":7.289,"delta_r":0.100},
  {"measure":"Unique category","log2_width_ms":7.460,"delta_r":0.144},
  {"measure":"Unique category","log2_width_ms":7.631,"delta_r":0.198},
  {"measure":"Unique category","log2_width_ms":7.802,"delta_r":0.251},
  {"measure":"Unique category","log2_width_ms":7.973,"delta_r":0.287},
  {"measure":"Unique category","log2_width_ms":8.144,"delta_r":0.309},
  {"measure":"Unique category","log2_width_ms":8.357,"delta_r":0.322},
  {"measure":"Unique category","log2_width_ms":8.571,"delta_r":0.327},
  {"measure":"Unique category","log2_width_ms":8.999,"delta_r":0.329},
  {"measure":"Unique category","log2_width_ms":9.270,"delta_r":0.329}
 ]
},
"resolve": {"scale": {"color": "independent", "stroke": "independent"}},
"spacing": 107,
"hconcat": [
 {
  "spacing": 0,
  "resolve": {"scale": {"color": "independent", "stroke": "independent"}},
  "vconcat": [
   {"width": 1, "height": 1, "data": {"values": []}, "mark": {"type": "point"}},
   {
    "spacing": 0,
    "hconcat": [
     {"width": 1, "height": 1, "data": {"values": []}, "mark": {"type": "point"}},
     {
      "title": {"text": "a Integration matching", "anchor": "start", "frame": "bounds", "fontSize": 66, "fontWeight": "bold", "baseline": "top", "offset": 19},
      "width": 488, "height": 345,
      "data": {"values": [
       {"group":"Shortest","width_ms":36.2,"fraction":0},
       {"group":"Shortest","width_ms":210,"fraction":0},
       {"group":"Shortest","width_ms":230.6,"fraction":0.023},
       {"group":"Shortest","width_ms":252.3,"fraction":0.043},
       {"group":"Shortest","width_ms":277.8,"fraction":0.247},
       {"group":"Shortest","width_ms":304,"fraction":0.156},
       {"group":"Shortest","width_ms":333.4,"fraction":0.086},
       {"group":"Shortest","width_ms":365.6,"fraction":0.086},
       {"group":"Shortest","width_ms":400,"fraction":0.083},
       {"group":"Shortest","width_ms":438.7,"fraction":0.021},
       {"group":"Shortest","width_ms":480,"fraction":0},
       {"group":"Shortest","width_ms":528.7,"fraction":0},
       {"group":"Intermediate","width_ms":36.2,"fraction":0},
       {"group":"Intermediate","width_ms":210,"fraction":0},
       {"group":"Intermediate","width_ms":230.6,"fraction":0.044},
       {"group":"Intermediate","width_ms":252.3,"fraction":0.066},
       {"group":"Intermediate","width_ms":277.8,"fraction":0.265},
       {"group":"Intermediate","width_ms":304,"fraction":0.066},
       {"group":"Intermediate","width_ms":333.4,"fraction":0.111},
       {"group":"Intermediate","width_ms":365.6,"fraction":0.133},
       {"group":"Intermediate","width_ms":400,"fraction":0.043},
       {"group":"Intermediate","width_ms":438.7,"fraction":0},
       {"group":"Intermediate","width_ms":480,"fraction":0},
       {"group":"Intermediate","width_ms":528.7,"fraction":0},
       {"group":"Longest","width_ms":36.2,"fraction":0},
       {"group":"Longest","width_ms":210,"fraction":0},
       {"group":"Longest","width_ms":230.6,"fraction":0},
       {"group":"Longest","width_ms":252.3,"fraction":0.095},
       {"group":"Longest","width_ms":277.8,"fraction":0.215},
       {"group":"Longest","width_ms":304,"fraction":0.153},
       {"group":"Longest","width_ms":333.4,"fraction":0.086},
       {"group":"Longest","width_ms":365.6,"fraction":0.086},
       {"group":"Longest","width_ms":400,"fraction":0.086},
       {"group":"Longest","width_ms":438.7,"fraction":0},
       {"group":"Longest","width_ms":480,"fraction":0.023},
       {"group":"Longest","width_ms":528.7,"fraction":0}
      ]},
      "mark": {"type": "line", "strokeWidth": 2.7},
      "encoding": {
       "x": {"field": "width_ms", "type": "quantitative", "scale": {"type": "log", "domain": [31, 720], "nice": false},
         "axis": {"values": [50, 100, 200, 400], "labelExpr": "format(datum.value, 'd')", "tickSize": -8, "labelPadding": 23, "title": ["Integration width", "after matching (ms)"], "titleLineHeight": 59, "titlePadding": 15}},
       "y": {"field": "fraction", "type": "quantitative", "scale": {"domain": [0, 0.3], "nice": false},
         "axis": {"values": [0, 0.0375, 0.075, 0.1, 0.1125, 0.15, 0.1875, 0.2, 0.225, 0.2625, 0.3], "labelExpr": "datum.value == 0.1 ? '0.1' : datum.value == 0.2 ? '0.2' : ''", "tickOpacity": {"condition": {"test": "datum.value == 0.1 || datum.value == 0.2", "value": 0}, "value": 1}, "tickSize": -10, "labelPadding": 28, "title": "Fraction", "titlePadding": 20}},
       "color": {"field": "group", "type": "nominal", "scale": {"domain": ["Shortest", "Intermediate", "Longest"], "range": ["#1a1a1a", "#9c6331", "#fdbd6e"]}, "legend": null}
      }
     }
    ]
   },
   {
    "width": 519, "height": 307,
    "data": {"values": [{"group": "Shortest"}, {"group": "Intermediate"}, {"group": "Longest"}]},
    "encoding": {"y": {"field": "group", "type": "nominal", "sort": null, "scale": {"type": "point", "padding": 0, "range": [56, 176]}, "axis": null}},
    "layer": [
     {"mark": {"type": "point", "shape": "M-1,0H1", "size": 3249, "strokeWidth": 5, "filled": false, "opacity": 1, "strokeCap": "butt"},
      "encoding": {"stroke": {"field": "group", "type": "nominal", "scale": {"domain": ["Shortest", "Intermediate", "Longest"], "range": ["#1a1a1a", "#a26b3c", "#f2c062"]}, "legend": null}}},
     {"mark": {"type": "text", "align": "left", "baseline": "middle", "dx": 50, "fontSize": 54, "font": "Liberation Sans"},
      "encoding": {"text": {"field": "group"}, "color": {"field": "group", "type": "nominal", "scale": {"domain": ["Shortest", "Intermediate", "Longest"], "range": ["#1a1a1a", "#a87545", "#ebb748"]}, "legend": null}}}
    ]
   },
   {
    "spacing": 0,
    "hconcat": [
     {"width": 1, "height": 1, "data": {"values": []}, "mark": {"type": "point"}},
     {
      "title": {"text": "c Prediction accuracy", "anchor": "start", "frame": "bounds", "fontSize": 66, "fontWeight": "bold", "baseline": "top", "offset": 20},
      "width": 475, "height": 349,
      "data": {"values": [
       {"group":"Shortest","model":"Cochleagram","r2":0.738,"lo":0.586,"hi":0.790},
       {"group":"Shortest","model":"Category labels","r2":0.476,"lo":0.379,"hi":0.538},
       {"group":"Shortest","model":"Both","r2":0.719,"lo":0.650,"hi":0.760},
       {"group":"Intermed","model":"Cochleagram","r2":0.471,"lo":0.431,"hi":0.516},
       {"group":"Intermed","model":"Category labels","r2":0.541,"lo":0.498,"hi":0.678},
       {"group":"Intermed","model":"Both","r2":0.638,"lo":0.562,"hi":0.754},
       {"group":"Longest","model":"Cochleagram","r2":0.310,"lo":0.273,"hi":0.395},
       {"group":"Longest","model":"Category labels","r2":0.595,"lo":0.562,"hi":0.655},
       {"group":"Longest","model":"Both","r2":0.619,"lo":0.585,"hi":0.674}
      ]},
      "encoding": {
       "x": {"field": "group", "type": "nominal", "sort": ["Shortest", "Intermed", "Longest"], "scale": {"paddingInner": 0.293, "paddingOuter": 0.159},
         "axis": {"title": null, "ticks": false, "labelAngle": -45, "labelAlign": "right", "labelBaseline": "middle", "labelPadding": 34, "labelOffset": 10,
           "labelColor": {"condition": [{"test": "datum.value == 'Intermed'", "value": "#a8703e"}, {"test": "datum.value == 'Longest'", "value": "#edb844"}], "value": "#1a1a1a"}}},
       "xOffset": {"field": "model", "type": "nominal", "sort": ["Cochleagram", "Category labels", "Both"], "scale": {"paddingInner": 0.19, "paddingOuter": 0}}
      },
      "layer": [
       {"mark": {"type": "bar", "stroke": "#3a3a3a", "strokeWidth": 1},
        "encoding": {
         "y": {"field": "r2", "type": "quantitative", "scale": {"domain": [0, 1], "nice": false},
           "axis": {"values": [0, 0.2, 0.4, 0.6, 0.8, 1], "labelExpr": "datum.value == 0 ? '0' : datum.value == 0.4 ? '0.4' : datum.value == 0.8 ? '0.8' : ''", "tickSize": -9, "labelPadding": 20, "title": ["Correlation", "(noise-corrected r²)"], "titleLineHeight": 52, "titlePadding": 41, "titleY": 236}},
         "color": {"field": "model", "type": "nominal", "scale": {"domain": ["Cochleagram", "Category labels", "Both"], "range": ["#0072bd", "#d95319", "#edb120"]}, "legend": null}}},
       {"mark": {"type": "rule", "color": "#000000", "strokeWidth": 3.5},
        "encoding": {"y": {"field": "lo", "type": "quantitative"}, "y2": {"field": "hi"}}},
       {"mark": {"type": "tick", "color": "#000000", "size": 14, "thickness": 3.5, "orient": "horizontal", "opacity": 1},
        "encoding": {"y": {"field": "lo", "type": "quantitative"}}},
       {"mark": {"type": "tick", "color": "#000000", "size": 14, "thickness": 3.5, "orient": "horizontal", "opacity": 1},
        "encoding": {"y": {"field": "hi", "type": "quantitative"}}}
      ]
     }
    ]
   },
   {
    "width": 506, "height": 240,
    "data": {"values": [{"model": "Cochleagram"}, {"model": "Category labels"}, {"model": "Both"}]},
    "encoding": {"y": {"field": "model", "type": "nominal", "sort": null, "scale": {"type": "point", "padding": 0, "range": [92, 214]}, "axis": null}},
    "layer": [
     {"mark": {"type": "point", "shape": "square", "size": 1936, "filled": true, "opacity": 1},
      "encoding": {"color": {"field": "model", "type": "nominal", "scale": {"domain": ["Cochleagram", "Category labels", "Both"], "range": ["#1380c6", "#d8703c", "#e6c21e"]}, "legend": null}}},
     {"mark": {"type": "text", "align": "left", "baseline": "middle", "dx": 51, "fontSize": 54, "font": "Liberation Sans", "color": "#1a1a1a"},
      "encoding": {"text": {"field": "model"}}}
    ]
   }
  ]
 },
 {
  "spacing": 0,
  "resolve": {"scale": {"color": "independent", "stroke": "independent"}},
  "vconcat": [
   {"width": 1, "height": 1, "data": {"values": []}, "mark": {"type": "point"}},
   {
    "spacing": 0,
    "hconcat": [
     {"width": 2, "height": 1, "data": {"values": []}, "mark": {"type": "point"}},
     {
      "title": {"text": "b Principal components", "anchor": "start", "frame": "bounds", "fontSize": 66, "fontWeight": "bold", "baseline": "top", "offset": 29},
      "bounds": "flush",
      "spacing": 20,
      "hconcat": [
       {
        "title": {"text": "Shortest", "color": "#1a1a1a", "fontSize": 54, "fontWeight": "normal", "baseline": "top", "offset": 4},
        "width": 311, "height": 309,
        "data": {"name": "pcs"},
        "transform": [{"filter": "datum.panel == 'Shortest'"}],
        "mark": {"type": "point", "filled": false, "size": 100, "strokeWidth": 2.2, "opacity": 1},
        "encoding": {
         "x": {"field": "pc1", "type": "quantitative", "scale": {"domain": [0.38, 9.70], "nice": false, "zero": false}, "axis": {"values": [3.30, 6.12, 9.00], "labels": false, "tickSize": -5, "title": null, "domainWidth": 3.5}},
         "y": {"field": "pc2", "type": "quantitative", "scale": {"domain": [0.08, 9.35], "nice": false, "zero": false}, "axis": {"values": [9.15, 7.60, 6.07, 4.52, 2.97, 1.42], "labels": false, "tickSize": -5, "title": "PC2", "titleX": -33, "titleY": 119, "titleAngle": -90, "titleBaseline": "alphabetic", "titleAlign": "center", "domainWidth": 3.5}},
         "color": {"field": "category", "type": "nominal", "scale": {"domain": ["English speech", "Foreign speech", "Human vocalizations", "Animal vocalizations", "Nature sounds", "Mechanical sounds", "Instrumental music", "Music with vocals", "Drumming", "Nonvocal animal", "Other env. sounds"], "range": ["#0b5e3f", "#5bb08b", "#5a2d8c", "#a266d8", "#e8e030", "#e07d10", "#0d2490", "#f22c2c", "#18b6e6", "#e8557d", "#6e6e6e"]}, "legend": null}
        }
       },
       {
        "title": {"text": "Intermediate", "color": "#a8743f", "fontSize": 54, "fontWeight": "normal", "baseline": "top", "offset": 4},
        "width": 311, "height": 309,
        "data": {"name": "pcs"},
        "transform": [{"filter": "datum.panel == 'Intermediate'"}],
        "mark": {"type": "point", "filled": false, "size": 100, "strokeWidth": 2.2, "opacity": 1},
        "encoding": {
         "x": {"field": "pc1", "type": "quantitative", "scale": {"domain": [0.40, 9.75], "nice": false, "zero": false}, "axis": {"values": [1.55, 3.85, 6.17, 8.50], "labels": false, "tickSize": -5, "title": "PC1 (arbitrary units)", "titleX": 132, "titleY": 62, "titleBaseline": "alphabetic", "titleAlign": "center", "domainWidth": 3.5}},
         "y": {"field": "pc2", "type": "quantitative", "scale": {"domain": [0.10, 9.35], "nice": false, "zero": false}, "axis": {"values": [9.25, 7.40, 5.58, 3.73, 1.88], "labels": false, "tickSize": -5, "title": null, "domainWidth": 3.5}},
         "color": {"field": "category", "type": "nominal", "scale": {"domain": ["English speech", "Foreign speech", "Human vocalizations", "Animal vocalizations", "Nature sounds", "Mechanical sounds", "Instrumental music", "Music with vocals", "Drumming", "Nonvocal animal", "Other env. sounds"], "range": ["#0b5e3f", "#5bb08b", "#5a2d8c", "#a266d8", "#e8e030", "#e07d10", "#0d2490", "#f22c2c", "#18b6e6", "#e8557d", "#6e6e6e"]}, "legend": null}
        }
       },
       {
        "title": {"text": "Longest", "color": "#eab545", "fontSize": 54, "fontWeight": "normal", "baseline": "top", "offset": 4},
        "width": 311, "height": 309,
        "data": {"name": "pcs"},
        "transform": [{"filter": "datum.panel == 'Longest'"}],
        "mark": {"type": "point", "filled": false, "size": 100, "strokeWidth": 2.2, "opacity": 1},
        "encoding": {
         "x": {"field": "pc1", "type": "quantitative", "scale": {"domain": [0.45, 9.80], "nice": false, "zero": false}, "axis": {"values": [1.75, 4.25, 6.65, 9.15], "labels": false, "tickSize": -5, "title": null, "domainWidth": 3.5}},
         "y": {"field": "pc2", "type": "quantitative", "scale": {"domain": [0.08, 9.35], "nice": false, "zero": false}, "axis": {"values": [8.80, 7.18, 5.58, 3.98, 2.38, 0.78], "labels": false, "tickSize": -5, "title": null, "domainWidth": 3.5}},
         "color": {"field": "category", "type": "nominal", "scale": {"domain": ["English speech", "Foreign speech", "Human vocalizations", "Animal vocalizations", "Nature sounds", "Mechanical sounds", "Instrumental music", "Music with vocals", "Drumming", "Nonvocal animal", "Other env. sounds"], "range": ["#0b5e3f", "#5bb08b", "#5a2d8c", "#a266d8", "#e8e030", "#e07d10", "#0d2490", "#f22c2c", "#18b6e6", "#e8557d", "#6e6e6e"]}, "legend": null}
        }
       }
      ]
     }
    ]
   },
   {
    "spacing": 22,
    "resolve": {"scale": {"color": "independent", "stroke": "independent"}},
    "hconcat": [
     {
      "width": 60, "height": 423,
      "data": {"values": [{"category": "English speech"}, {"category": "Foreign speech"}, {"category": "Human vocalizations"}, {"category": "Animal vocalizations"}, {"category": "Nature sounds"}, {"category": "Mechanical sounds"}]},
      "encoding": {"y": {"field": "category", "type": "nominal", "sort": null, "scale": {"type": "point", "padding": 0, "range": [45, 317]}, "axis": null}},
      "layer": [
       {"mark": {"type": "point", "filled": false, "size": 950, "strokeWidth": 5, "opacity": 1},
        "encoding": {"stroke": {"field": "category", "type": "nominal", "scale": {"domain": ["English speech", "Foreign speech", "Human vocalizations", "Animal vocalizations", "Nature sounds", "Mechanical sounds"], "range": ["#0f7050", "#6cc4a8", "#5e3898", "#b783d0", "#f8e44a", "#f28f6a"]}, "legend": null}}},
       {"mark": {"type": "text", "align": "left", "baseline": "middle", "dx": 29, "fontSize": 54, "font": "Liberation Sans", "color": "#1a1a1a"},
        "encoding": {"text": {"field": "category"}}}
      ]
     },
     {
      "width": 50, "height": 423,
      "data": {"values": [{"category": "Instrumental music"}, {"category": "Music with vocals"}, {"category": "Drumming"}, {"category": "Nonvocal animal"}, {"category": "Other env. sounds"}]},
      "encoding": {"y": {"field": "category", "type": "nominal", "sort": null, "scale": {"type": "point", "padding": 0, "range": [45, 263]}, "axis": null}},
      "layer": [
       {"mark": {"type": "point", "filled": false, "size": 950, "strokeWidth": 5, "opacity": 1},
        "encoding": {"stroke": {"field": "category", "type": "nominal", "scale": {"domain": ["Instrumental music", "Music with vocals", "Drumming", "Nonvocal animal", "Other env. sounds"], "range": ["#2350a0", "#ef5050", "#2ab8ec", "#ef5d85", "#b0b0b0"]}, "legend": null}}},
       {"mark": {"type": "text", "align": "left", "baseline": "middle", "dx": 28, "fontSize": 54, "font": "Liberation Sans", "color": "#1a1a1a"},
        "encoding": {"text": {"field": "category"}}}
      ]
     }
    ]
   },
   {
    "spacing": 0,
    "hconcat": [
     {"width": 1, "height": 1, "data": {"values": []}, "mark": {"type": "point"}},
     {
      "title": {"text": "d Unique variance", "anchor": "start", "frame": "bounds", "fontSize": 66, "fontWeight": "bold", "baseline": "top", "offset": 54},
      "width": 336, "height": 348,
      "layer": [
       {"data": {"values": [{"ref": 0}]},
        "mark": {"type": "rule", "color": "#000000", "strokeWidth": 1.5},
        "encoding": {"y": {"field": "ref", "type": "quantitative"}}},
       {"data": {"name": "d_points"},
        "mark": {"type": "point", "filled": false, "size": 110, "strokeWidth": 1.7, "opacity": 1},
        "encoding": {
         "x": {"field": "log2_width_ms", "type": "quantitative", "scale": {"domain": [4.968, 9.272], "nice": false, "zero": false},
           "axis": {"values": [5.644, 6.644, 7.644, 8.644], "labelExpr": "abs(datum.value - 6.644) < 0.01 ? '100' : abs(datum.value - 8.644) < 0.01 ? '400' : ''", "tickSize": -7, "labelPadding": 21, "title": "Integration width (ms)", "titlePadding": 23, "titleX": 202, "domainWidth": 2}},
         "y": {"field": "delta_r", "type": "quantitative", "scale": {"domain": [-0.274, 0.66], "nice": false, "zero": false},
           "axis": {"values": [-0.2, -0.1, 0, 0.1, 0.2, 0.3, 0.4, 0.5, 0.6], "labelExpr": "datum.value == 0 ? '0' : abs(datum.value - 0.3) < 0.001 ? '0.3' : abs(datum.value - 0.6) < 0.001 ? '0.6' : ''", "tickSize": -7, "labelPadding": 19, "title": ["Δ Correlation", "(noise-corrected r²)"], "titleLineHeight": 49, "titlePadding": 39, "titleY": 236, "domainWidth": 2}},
         "color": {"field": "measure", "type": "nominal", "scale": {"domain": ["Unique cochleagram", "Unique category"], "range": ["#1f7fc6", "#d95a1f"]}, "legend": null}}},
       {"data": {"name": "d_fits"},
        "mark": {"type": "line", "strokeWidth": 5, "interpolate": "monotone"},
        "encoding": {
         "x": {"field": "log2_width_ms", "type": "quantitative"},
         "y": {"field": "delta_r", "type": "quantitative"},
         "color": {"field": "measure", "type": "nominal", "legend": null}}}
      ]
     }
    ]
   },
   {
    "width": 338, "height": 295,
    "data": {"values": [{"measure": "Unique cochleagram", "label": "Unique cochleagram\n(both - category)"}, {"measure": "Unique category", "label": "Unique category\n(both - cochleagram)"}]},
    "encoding": {"y": {"field": "measure", "type": "nominal", "sort": null, "scale": {"type": "point", "padding": 0, "range": [63, 215]}, "axis": null}},
    "layer": [
     {"mark": {"type": "point", "filled": false, "size": 1050, "strokeWidth": 5, "opacity": 1},
      "encoding": {"stroke": {"field": "measure", "type": "nominal", "scale": {"domain": ["Unique cochleagram", "Unique category"], "range": ["#1f7fc6", "#d9703c"]}, "legend": null}}},
     {"mark": {"type": "text", "align": "left", "baseline": "alphabetic", "dx": 41, "dy": 19, "lineBreak": "\n", "lineHeight": 66, "fontSize": 54, "font": "Liberation Sans", "color": "#1a1a1a"},
      "encoding": {"text": {"field": "label"}}}
    ]
   }
  ]
 }
]
}
